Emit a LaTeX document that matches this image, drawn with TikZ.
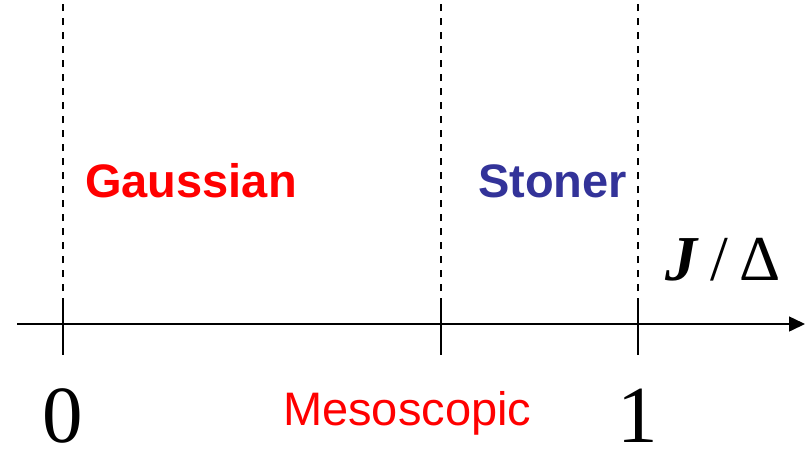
\documentclass[tikz,border=0pt]{standalone}
\usepackage{fontspec}
\setmainfont{Liberation Serif}
\setsansfont{Liberation Sans}
\usetikzlibrary{arrows.meta}
\definecolor{gred}{HTML}{FF0000}
\definecolor{sblue}{HTML}{333399}
\begin{document}
\begin{tikzpicture}[x=1pt,y=-1pt,
  guide/.style={line width=1.3pt, dash pattern=on 7.5pt off 6.5pt},
  axisline/.style={line width=1.5pt},
  region/.style={inner sep=0pt, anchor=base west, font=\sffamily\bfseries\fontsize{47}{50}\selectfont},
  numlabel/.style={inner sep=0pt, anchor=base, text depth=0pt, font=\fontsize{81}{90}\selectfont}]
\useasboundingbox (0,0) rectangle (810,448);
% axis
\coordinate (start) at (17,324);
\coordinate (tip) at (805,324);
\draw[axisline,-{Triangle[length=16pt,width=15pt]}] (start) -- (tip);
% ticks and guides
\foreach \n/\x in {a/63,b/441,c/638}{
  \coordinate (top\n) at (\x,0);
  \coordinate (mid\n) at (\x,305);
  \coordinate (bot\n) at (\x,355);
  \draw[axisline] (mid\n) -- (bot\n);
  \draw[guide] (mid\n) -- (top\n);
}
% labels
\node[region, text=gred] (gauss) at (85,197) {Gaussian};
\node[region, text=sblue] (stoner) at (478,197) {Stoner};
\node[inner sep=0pt, anchor=base west, text=gred, font=\sffamily\fontsize{47}{50}\selectfont] (meso) at (283,425) {Mesoscopic};
\node[numlabel] (zero) at (63,442) {0};
\node[numlabel] (one) at (638,442) {1};
\node[inner sep=0pt, anchor=base west, font=\fontsize{64}{70}\selectfont] (ratio) at (665,280) {\textbf{\textit{J}}\hspace{12pt}/\hspace{11pt}Δ};
\end{tikzpicture}
\end{document}
